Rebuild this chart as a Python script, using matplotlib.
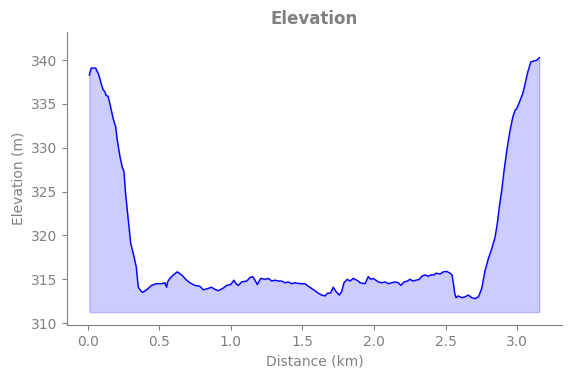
import numpy as np
import matplotlib
matplotlib.use("Agg")
import matplotlib.pyplot as plt

# Distance along the route (km) and elevation (m).
distance_km = [
  0.010, 0.023, 0.054, 0.077, 0.093, 0.107, 0.119, 0.126, 0.140, 0.154,
  0.177, 0.194, 0.205, 0.224, 0.240, 0.252, 0.263, 0.280, 0.299, 0.322,
  0.338, 0.352, 0.369, 0.382, 0.410, 0.445, 0.480, 0.515, 0.538, 0.550,
  0.557, 0.573, 0.597, 0.625, 0.655, 0.690, 0.713, 0.748, 0.783, 0.806,
  0.830, 0.865, 0.881, 0.911, 0.942, 0.970, 0.998, 1.021, 1.035, 1.051,
  1.075, 1.110, 1.133, 1.152, 1.168, 1.184, 1.208, 1.238, 1.261, 1.285,
  1.308, 1.331, 1.355, 1.378, 1.401, 1.424, 1.448, 1.483, 1.517, 1.541,
  1.564, 1.587, 1.611, 1.634, 1.657, 1.674, 1.697, 1.715, 1.734, 1.757,
  1.774, 1.790, 1.813, 1.832, 1.855, 1.890, 1.902, 1.937, 1.960, 1.977,
  1.995, 2.030, 2.054, 2.077, 2.100, 2.124, 2.147, 2.170, 2.187, 2.210,
  2.233, 2.252, 2.271, 2.294, 2.317, 2.334, 2.357, 2.380, 2.397, 2.420,
  2.434, 2.462, 2.485, 2.508, 2.531, 2.545, 2.555, 2.564, 2.573, 2.589,
  2.613, 2.636, 2.660, 2.683, 2.706, 2.730, 2.753, 2.776, 2.800, 2.823,
  2.846, 2.862, 2.876, 2.893, 2.909, 2.928, 2.951, 2.970, 2.986, 2.998,
  3.016, 3.040, 3.056, 3.072, 3.096, 3.114, 3.138, 3.156,
]
elevation_m = [
  338.3, 339.1, 339.1, 338.3, 337.3, 336.6, 336.4, 336.0, 335.9, 335.0,
  333.3, 332.4, 330.9, 329.0, 327.8, 327.3, 324.8, 322.1, 319.1, 317.6,
  316.4, 314.1, 313.7, 313.5, 313.8, 314.3, 314.5, 314.5, 314.6, 314.1,
  314.7, 315.1, 315.5, 315.85, 315.5, 314.9, 314.6, 314.3, 314.2, 313.8,
  313.9, 314.1, 313.9, 313.7, 313.95, 314.3, 314.4, 314.9, 314.5, 314.3,
  314.7, 314.8, 315.2, 315.3, 314.9, 314.4, 315.1, 315.0, 315.1, 314.8,
  314.9, 314.8, 314.8, 314.6, 314.7, 314.5, 314.6, 314.5, 314.5, 314.2,
  313.95, 313.7, 313.4, 313.2, 313.1, 313.4, 313.45, 314.1, 313.6, 313.2,
  313.6, 314.6, 315.0, 314.8, 315.1, 314.8, 314.6, 314.5, 315.3, 315.0,
  315.1, 314.7, 314.6, 314.7, 314.5, 314.6, 314.7, 314.6, 314.3, 314.7,
  314.8, 315.0, 314.8, 314.9, 315.0, 315.35, 315.5, 315.35, 315.5, 315.5,
  315.7, 315.6, 315.85, 315.9, 315.7, 315.5, 314.5, 313.4, 312.9, 313.1,
  312.9, 313.0, 313.2, 312.9, 312.8, 313.0, 313.95, 316.0, 317.4, 318.5,
  319.8, 321.4, 323.3, 325.2, 327.4, 329.7, 332.0, 333.5, 334.3, 334.5,
  335.2, 336.2, 337.3, 338.5, 339.8, 339.9, 340.0, 340.3,
]

fill_base = 311.25
grey = "grey"

fig = plt.figure(figsize=(5.71, 3.78), dpi=100)
ax = fig.add_axes([0.117, 0.140, 0.867, 0.775])

ax.plot(distance_km, elevation_m, color="blue", linewidth=1)
ax.fill_between(distance_km, elevation_m, fill_base, color="blue", alpha=0.2)

ax.set_ylim(309.77, 343.2)
ax.set_xticks(np.arange(0, 3.01, 0.5))
ax.set_title("Elevation", color=grey, fontweight="bold", fontsize=12)
ax.set_xlabel("Distance (km)", color=grey)
ax.set_ylabel("Elevation (m)", color=grey)

for side in ["top", "right"]:
  ax.spines[side].set_visible(False)
for side in ["left", "bottom"]:
  ax.spines[side].set_color(grey)
ax.tick_params(colors=grey)

fig.savefig("out.png", dpi=100)
